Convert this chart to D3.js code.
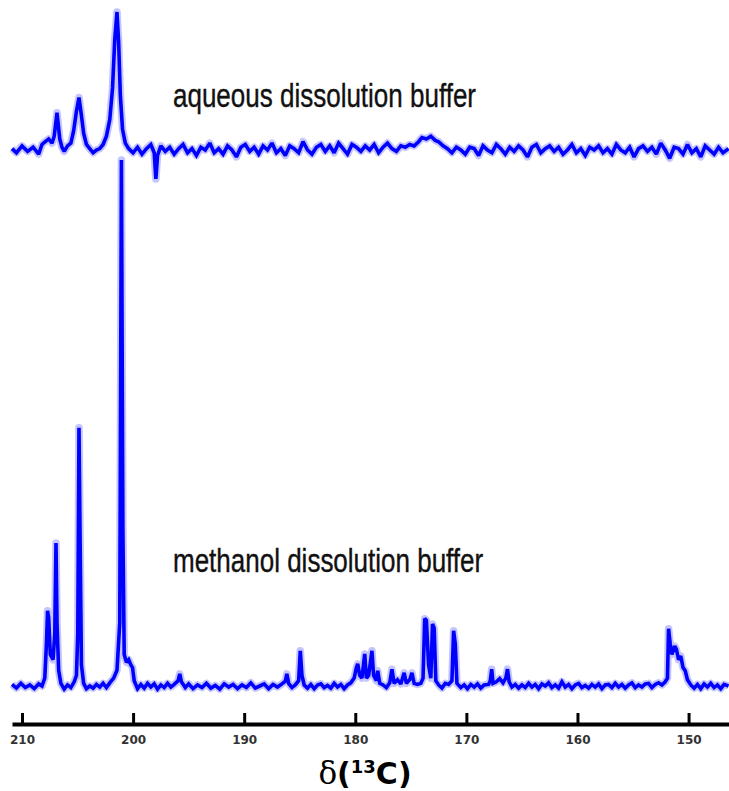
<!DOCTYPE html>
<html>
<head>
<meta charset="utf-8">
<script src="https://cdn.jsdelivr.net/npm/d3@7/dist/d3.min.js"></script>
<style>
  html, body { margin: 0; padding: 0; background: #fff; }
  svg { display: block; }
</style>
</head>
<body>
<div id="chart"></div>
<script>
// ---------- DATA (ppm, intensity) ----------
const tickValues = [210, 200, 190, 180, 170, 160, 150];
const tickLabels = ["210", "200", "190", "180", "170", "160", "150"];
const seriesLabels = ["aqueous dissolution buffer", "methanol dissolution buffer"];
const axisTitle = { delta: "δ", open: "(", sup: "13", rest: "C)" };

const aqueous = [
[210.9,1],[210.5,-2],[210.0,3],[209.5,-1],[209.0,2],[208.5,-3],[208.2,4],[207.9,6],[207.6,8],[207.3,5],
[207.1,10],[206.85,27],[206.6,8],[206.4,2],[206.2,-1],[205.9,3],[205.6,5],[205.35,14],[205.1,28],[204.87,38],
[204.65,25],[204.45,12],[204.2,4],[203.9,1],[203.6,-2],[203.3,0],[203.0,1],[202.7,4],[202.4,10],[202.1,22],
[201.85,45],[201.65,80],[201.45,100],[201.3,78],[201.15,40],[200.95,15],[200.7,5],[200.4,1],[200.0,-2],[199.6,2],
[199.2,-3],[198.8,1],[198.4,4],[198.1,-2],[197.95,-21],[197.8,-4],[197.5,3],[197.1,-1],[196.7,2],[196.3,-3],
[195.9,1],[195.5,4],[195.1,-2],[194.7,1],[194.3,-4],[193.9,2],[193.5,0],[193.1,5],[192.7,-2],[192.3,1],
[191.9,-3],[191.5,3],[191.1,0],[190.7,-5],[190.3,2],[189.9,4],[189.5,-1],[189.1,2],[188.7,-3],[188.3,3],
[187.9,0],[187.5,5],[187.1,-2],[186.7,1],[186.3,-4],[185.9,3],[185.5,1],[185.1,-2],[184.7,6],[184.3,0],
[183.9,-3],[183.5,2],[183.1,4],[182.7,-1],[182.3,3],[181.9,-2],[181.5,5],[181.1,1],[180.7,-3],[180.3,4],
[179.9,2],[179.5,-1],[179.1,3],[178.7,0],[178.3,4],[177.9,-2],[177.5,2],[177.1,5],[176.7,1],[176.3,-1],
[175.9,3],[175.5,2],[175.1,4],[174.7,3],[174.3,6],[174.0,9],[173.6,8],[173.2,10],[172.8,7],[172.5,6],
[172.1,3],[171.7,1],[171.3,-2],[170.9,2],[170.5,0],[170.1,-3],[169.7,2],[169.3,1],[168.9,-4],[168.5,3],
[168.1,0],[167.7,-2],[167.3,4],[166.9,1],[166.5,-3],[166.1,2],[165.7,-1],[165.3,3],[164.9,0],[164.5,-5],
[164.1,2],[163.7,4],[163.3,-2],[162.9,1],[162.5,3],[162.1,-1],[161.7,2],[161.3,-3],[160.9,0],[160.5,4],
[160.1,-2],[159.7,1],[159.3,-4],[158.9,2],[158.5,0],[158.1,3],[157.7,-2],[157.3,1],[156.9,-3],[156.5,4],
[156.1,0],[155.7,-2],[155.3,2],[154.9,-5],[154.5,1],[154.1,3],[153.7,-1],[153.3,2],[152.9,-3],[152.5,5],
[152.1,0],[151.7,-6],[151.3,2],[150.9,1],[150.5,-3],[150.1,4],[149.7,-2],[149.3,1],[148.9,-5],[148.5,3],
[148.1,0],[147.7,-3],[147.3,2],[146.9,-2],[146.4,1]
];

const methanol = [
[210.9,0.3],[210.5,-0.4],[210.1,0.5],[209.7,-0.3],[209.3,0.2],[208.9,-0.5],[208.5,0.4],[208.2,0],[207.95,1.5],[207.8,8],
[207.7,14.3],[207.6,13],[207.45,6],[207.2,5],[207.05,10],[206.94,27.2],[206.85,12],[206.7,3],[206.5,0.5],[206.2,-0.6],
[205.9,0.2],[205.6,-0.3],[205.3,0.8],[205.1,2],[204.98,10],[204.87,49.1],[204.78,30],[204.65,4],[204.45,0.5],[204.2,-0.5],
[203.9,0],[203.6,-0.4],[203.3,0.3],[203.0,-0.2],[202.7,0.5],[202.4,-0.3],[202.1,0.6],[201.75,1.5],[201.45,3],[201.2,12],
[201.05,100],[200.92,30],[200.8,6],[200.6,4.5],[200.4,5],[200.2,4],[200.05,3.5],[199.9,1],[199.6,-0.5],[199.3,0.3],
[199.0,-0.4],[198.7,0.5],[198.4,-0.2],[198.1,0.4],[197.8,-0.6],[197.5,0.2],[197.2,-0.3],[196.9,0.5],[196.6,-0.2],[196.3,0.3],
[195.95,1],[195.8,2.3],[195.65,0.8],[195.3,-0.3],[195.0,0.4],[194.6,-0.5],[194.2,0.2],[193.8,-0.3],[193.4,0.5],[193.0,-0.4],
[192.6,0.1],[192.2,-0.6],[191.8,0.4],[191.4,-0.2],[191.0,0.3],[190.6,-0.5],[190.2,0.2],[189.8,-0.3],[189.4,0.6],[189.0,-0.4],
[188.6,0],[188.2,0.4],[187.8,-0.5],[187.4,0.3],[187.0,-0.2],[186.6,0.4],[186.3,0.9],[186.16,2.3],[186.0,0.5],[185.7,-0.3],
[185.4,0.2],[185.1,1],[184.95,6.7],[184.8,2],[184.6,0.2],[184.3,-0.4],[184.0,0.3],[183.7,-0.5],[183.4,0.2],[183.1,0.4],
[182.8,-0.3],[182.5,0.1],[182.2,-0.4],[181.9,0.5],[181.6,-0.2],[181.3,0.3],[181.0,-0.5],[180.7,0.2],[180.4,0.6],[180.1,1.5],
[179.9,3.5],[179.78,4.2],[179.6,2],[179.4,1.5],[179.15,6.1],[179.0,1.5],[178.8,2],[178.5,6.7],[178.35,2],[178.1,1],
[177.98,2.9],[177.8,0.5],[177.5,0.2],[177.2,-0.3],[176.9,0.6],[176.7,3.2],[176.5,0.5],[176.2,1.2],[175.9,0.4],[175.6,2.5],
[175.4,0.5],[175.1,1.2],[174.9,2.5],[174.7,0.5],[174.4,0.3],[174.1,0.5],[173.9,1.5],[173.75,12.8],[173.6,12.5],[173.4,4],
[173.2,1.5],[173.05,11.8],[172.9,11],[172.75,1],[172.5,0.2],[172.2,-0.4],[171.9,0.5],[171.6,0.3],[171.3,1],[171.15,10.5],
[171.0,8],[170.85,0.5],[170.5,-0.3],[170.2,0.2],[169.9,-0.5],[169.6,0.3],[169.3,-0.2],[169.0,0.4],[168.7,-0.4],[168.4,0.2],
[168.0,0.3],[167.85,1],[167.72,3.2],[167.6,0.5],[167.3,0.8],[167.0,1.4],[166.7,0.6],[166.45,1.5],[166.3,3.2],[166.15,0.8],
[165.9,-0.2],[165.6,0.3],[165.3,-0.4],[165.0,0.2],[164.7,-0.3],[164.4,0.5],[164.1,-0.2],[163.8,0.3],[163.5,-0.5],[163.2,0.4],
[162.9,0],[162.6,0.6],[162.3,-0.3],[162.0,0.2],[161.7,-0.4],[161.4,0.8],[161.1,-0.2],[160.8,0.3],[160.5,-0.5],[160.2,0.2],
[159.9,0.5],[159.6,-0.3],[159.3,0.1],[159.0,-0.4],[158.7,0.3],[158.4,-0.2],[158.1,0.4],[157.8,-0.5],[157.5,0.2],[157.2,0.3],
[156.9,-0.3],[156.6,0.5],[156.3,-0.2],[156.0,0.3],[155.7,-0.4],[155.4,0.2],[155.1,0.6],[154.8,-0.3],[154.5,0.2],[154.2,-0.2],
[153.9,0.4],[153.6,0.5],[153.3,-0.3],[153.0,0.3],[152.7,0.6],[152.4,0.2],[152.1,0.8],[151.9,1.5],[151.8,10.9],[151.65,8],
[151.5,6],[151.25,7.6],[151.1,7],[150.9,5],[150.7,5.7],[150.5,3.5],[150.3,2.9],[150.1,1.2],[149.8,0.2],[149.5,-0.4],
[149.2,0.3],[148.9,-0.5],[148.6,0.4],[148.3,-0.2],[148.0,0.5],[147.7,-0.3],[147.4,0.2],[147.1,-0.5],[146.8,0.3],[146.4,0]
];

// ---------- CHART ----------
const W = 729, H = 791;
const svg = d3.select("#chart").append("svg").attr("width", W).attr("height", H);

const x = d3.scaleLinear().domain([210.9, 146.36]).range([12, 729]);
const yTop = d3.scaleLinear().domain([0, 100]).range([150, 12]);
const yBot = d3.scaleLinear().domain([0, 100]).range([686, 160]);

function drawTrace(data, y) {
  const line = d3.line().x(d => x(d[0])).y(d => y(d[1]));
  svg.append("path").datum(data).attr("d", line)
    .attr("fill", "none").attr("stroke", "rgba(70,70,255,0.32)")
    .attr("stroke-width", 7.5).attr("stroke-linejoin", "round");
  svg.append("path").datum(data).attr("d", line)
    .attr("fill", "none").attr("stroke", "#0000ff")
    .attr("stroke-width", 3.6).attr("stroke-linejoin", "miter").attr("stroke-miterlimit", 2);
}
drawTrace(aqueous, yTop);
drawTrace(methanol, yBot);

// series labels (vertically stretched like the reference)
[[seriesLabels[0], 173, 107], [seriesLabels[1], 173, 572]].forEach(([t, tx, ty]) => {
  svg.append("text")
    .attr("transform", `translate(${tx},${ty}) scale(1,1.25)`)
    .attr("font-family", "'Liberation Sans', Arial, sans-serif")
    .attr("font-size", 26).attr("fill", "#111")
    .attr("stroke", "#111").attr("stroke-width", 0.3)
    .text(t);
});

// axis
const axis = d3.axisBottom(x)
  .tickValues(tickValues)
  .tickFormat((d, i) => tickLabels[i])
  .tickSizeInner(-11).tickSizeOuter(0).tickPadding(11);
const gAxis = svg.append("g").attr("transform", "translate(0,724)").call(axis);
gAxis.select(".domain").attr("stroke", "#000").attr("stroke-width", 4);
gAxis.selectAll(".tick line").attr("stroke", "#000").attr("stroke-width", 3);
gAxis.selectAll(".tick text")
  .attr("font-family", "'DejaVu Sans', sans-serif")
  .attr("font-size", 12).attr("font-weight", "bold").attr("fill", "#333");

// axis title
const title = svg.append("text").attr("x", 365).attr("y", 784)
  .attr("text-anchor", "middle").attr("fill", "#000");
title.append("tspan").attr("font-family", "'DejaVu Serif', serif").attr("font-size", 31).text(axisTitle.delta);
title.append("tspan").attr("font-family", "'DejaVu Sans', sans-serif").attr("font-weight", "bold").attr("font-size", 30).text(axisTitle.open);
title.append("tspan").attr("font-family", "'DejaVu Sans', sans-serif").attr("font-weight", "bold").attr("font-size", 18).attr("dy", -11).text(axisTitle.sup);
title.append("tspan").attr("font-family", "'DejaVu Sans', sans-serif").attr("font-weight", "bold").attr("font-size", 30).attr("dy", 11).text(axisTitle.rest);
</script>
</body>
</html>
